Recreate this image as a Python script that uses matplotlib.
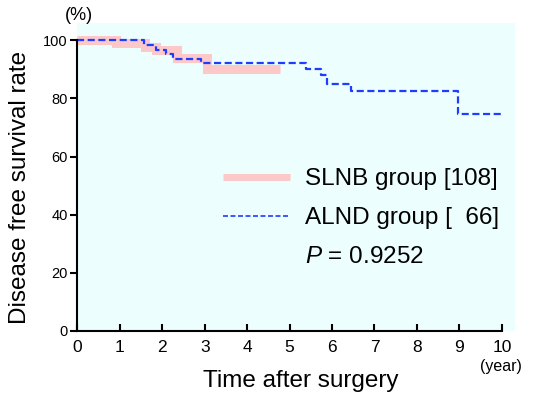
import numpy as np
import matplotlib
matplotlib.use('Agg')
import matplotlib.pyplot as plt
from matplotlib.lines import Line2D

# Kaplan-Meier style step data (years, %)
slnb_time = [0, 0.9, 1.6, 1.85, 2.35, 3.05, 4.78]
slnb_surv = [100, 99.1, 97.9, 96.8, 94.1, 90.3, 90.3]

alnd_time = [0, 1.58, 1.86, 2.1, 2.25, 2.92, 5.38, 5.75, 5.89, 6.45, 8.97, 9.97]
alnd_surv = [100, 98.5, 96.8, 95.4, 93.7, 92.1, 90.0, 88.2, 85.0, 82.4, 74.7, 74.7]

x_ticks = list(range(0, 11))
y_ticks = [0, 20, 40, 60, 80, 100]

PINK = '#fdc8c8'
BLUE = '#1f3cff'
PANEL = '#ecfefe'

plt.rcParams.update({
    'font.family': 'Liberation Sans',
    'mathtext.fontset': 'custom',
    'mathtext.it': 'Liberation Sans:italic',
    'mathtext.rm': 'Liberation Sans',
})

fig = plt.figure(figsize=(5.37, 3.95), dpi=100)
ax = fig.add_axes([0.144, 0.1628, 0.959 - 0.144, 0.9418 - 0.1628])
ax.set_facecolor(PANEL)

ax.step(slnb_time, slnb_surv, where='post', color=PINK, lw=6.5,
        solid_capstyle='butt', solid_joinstyle='miter')
ax.step(alnd_time, alnd_surv, where='post', color=BLUE, lw=1.6,
        dashes=(3.2, 1.6))

ax.set_xlim(0, 10.31)
ax.set_ylim(0, 106)
for s in ['top', 'right']:
    ax.spines[s].set_visible(False)
ax.spines['left'].set_bounds(0, 100)
ax.spines['bottom'].set_bounds(0, 10)
for s in ['left', 'bottom']:
    ax.spines[s].set_linewidth(1.5)

ax.set_xticks(x_ticks)
ax.set_yticks(y_ticks)
ax.tick_params(axis='x', direction='in', length=5, width=1.5, pad=7,
               labelsize=12.5)
ax.tick_params(axis='y', direction='out', length=5, width=1.5, pad=2,
               labelsize=10.5)

fig.text(79 / 537, 1 - 16 / 395, '(%)', fontsize=13, ha='center', va='center')
fig.text(501 / 537, 1 - 367 / 395, '(year)', fontsize=11.5, ha='center', va='center')
fig.text(301 / 537, 1 - 381 / 395, 'Time after surgery', fontsize=17.5,
         ha='center', va='center')
fig.text(20 / 537, 1 - 187 / 395, 'Disease free survival rate', fontsize=17.5,
         ha='center', va='center', rotation=90)

handles = [Line2D([], [], color=PINK, lw=5, solid_capstyle='butt'),
           Line2D([], [], color=BLUE, lw=1.2, dashes=(3, 1.5)),
           Line2D([], [], color='none')]
labels = ['SLNB group [108]', 'ALND group [  66]', '$P$ = 0.9252']
ax.legend(handles, labels, frameon=False, fontsize=17.5,
          loc='upper left', bbox_to_anchor=(223 / 537, 1 - 168 / 395),
          bbox_transform=fig.transFigure,
          handlelength=2.76, handletextpad=0.62, labelspacing=0.7,
          borderpad=0, borderaxespad=0)

fig.savefig('out.png', dpi=100)
